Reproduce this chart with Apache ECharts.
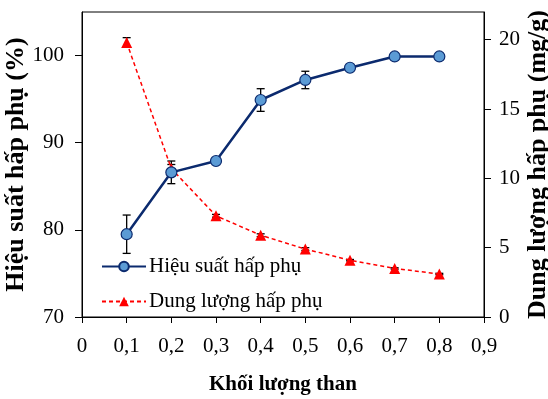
<!DOCTYPE html>
<html>
<head>
<meta charset="utf-8">
<script src="https://cdn.jsdelivr.net/npm/echarts@6/dist/echarts.min.js"></script>
<style>
html,body{margin:0;padding:0;background:#fff;}
#chart{width:548px;height:399px;}
</style>
</head>
<body>
<div id="chart"></div>
<script>
const xValues = [0.1, 0.2, 0.3, 0.4, 0.5, 0.6, 0.7, 0.8];
const efficiency = [79.5, 86.6, 87.9, 94.9, 97.2, 98.6, 99.9, 99.9];
const efficiencyError = [2.2, 1.3, 0.3, 1.3, 1.0, 0.3, 0.2, 0.2];
const capacity = [19.8, 10.7, 7.3, 5.9, 4.9, 4.1, 3.5, 3.1];
const capacityError = [0.35, 0.3, 0.1, 0.1, 0.1, 0.05, 0.05, 0.05];
const leftTicks = [70, 80, 90, 100];
const rightTicks = [0, 5, 10, 15, 20];
const seriesNames = ['Hiệu suất hấp phụ', 'Dung lượng hấp phụ'];

const FONT = '"Liberation Serif", "Times New Roman", serif';
const NAVY = '#0b2a6e';
const LIGHT = '#5b9bd5';
const RED = '#ff0000';

function errData(vals, errs) {
  return xValues.map((x, i) => [x, vals[i] - errs[i], vals[i] + errs[i]]);
}
function errRender(params, api) {
  const x = api.value(0);
  const lo = api.coord([x, api.value(1)]);
  const hi = api.coord([x, api.value(2)]);
  const w = 4;
  const st = { stroke: '#000', lineWidth: 1.3 };
  return {
    type: 'group',
    children: [
      { type: 'line', shape: { x1: lo[0], y1: lo[1], x2: hi[0], y2: hi[1] }, style: st },
      { type: 'line', shape: { x1: lo[0] - w, y1: lo[1], x2: lo[0] + w, y2: lo[1] }, style: st },
      { type: 'line', shape: { x1: hi[0] - w, y1: hi[1], x2: hi[0] + w, y2: hi[1] }, style: st }
    ]
  };
}

const chart = echarts.init(document.getElementById('chart'), null, { renderer: 'canvas' });
chart.setOption({
  animation: false,
  backgroundColor: '#fff',
  textStyle: { fontFamily: FONT },
  grid: {
    left: 82, right: 64, top: 12, bottom: 82,
    show: true, borderColor: '#000', borderWidth: 1,
    containLabel: false, outerBoundsMode: 'none'
  },
  legend: {
    data: seriesNames,
    orient: 'vertical',
    left: 96,
    top: 251,
    itemWidth: 44,
    itemHeight: 12,
    itemGap: 14,
    textStyle: { fontFamily: FONT, fontSize: 21, color: '#000', padding: [0, 0, 0, -2] }
  },
  xAxis: {
    type: 'value',
    min: 0, max: 0.9, interval: 0.1,
    name: 'Khối lượng than',
    nameLocation: 'middle',
    nameGap: 57,
    nameMoveOverlap: false,
    nameTextStyle: { fontFamily: FONT, fontSize: 21, fontWeight: 'bold', color: '#000' },
    axisLine: { show: true, lineStyle: { color: '#000', width: 1 } },
    axisTick: { show: true, inside: false, length: 6, lineStyle: { color: '#000' } },
    axisLabel: {
      fontFamily: FONT, fontSize: 21, color: '#000', margin: 19,
      formatter: v => (Math.round(v * 10) === 0 ? '0' : (Math.round(v * 10) / 10).toFixed(1).replace('.', ','))
    },
    splitLine: { show: false }
  },
  yAxis: [
    {
      type: 'value',
      position: 'left',
      min: 70, max: 105, interval: 10,
      name: 'Hiệu suất hấp phụ (%)',
      nameLocation: 'middle',
      nameRotate: 90,
      nameGap: 53,
      nameMoveOverlap: false,
      nameTextStyle: { fontFamily: FONT, fontSize: 26, fontWeight: 'bold', color: '#000' },
      axisLine: { show: true, lineStyle: { color: '#000', width: 1 } },
      axisTick: { show: true, length: 7, customValues: leftTicks, lineStyle: { color: '#000' } },
      axisLabel: { fontFamily: FONT, fontSize: 21, color: '#000', margin: 18, customValues: leftTicks },
      splitLine: { show: false }
    },
    {
      type: 'value',
      position: 'right',
      min: 0, max: 22, interval: 5,
      name: 'Dung lượng hấp phụ (mg/g)',
      nameLocation: 'middle',
      nameRotate: 90,
      nameGap: 41,
      nameMoveOverlap: false,
      nameTextStyle: { fontFamily: FONT, fontSize: 26, fontWeight: 'bold', color: '#000' },
      axisLine: { show: true, lineStyle: { color: '#000', width: 1 } },
      axisTick: { show: true, length: 7, customValues: rightTicks, lineStyle: { color: '#000' } },
      axisLabel: { fontFamily: FONT, fontSize: 21, color: '#000', margin: 15, customValues: rightTicks },
      splitLine: { show: false }
    }
  ],
  series: [
    {
      type: 'custom', name: 'errEff', yAxisIndex: 0, z: 1,
      renderItem: errRender,
      data: errData(efficiency, efficiencyError),
      encode: { x: 0, y: [1, 2] },
      silent: true
    },
    {
      type: 'custom', name: 'errCap', yAxisIndex: 1, z: 1,
      renderItem: errRender,
      data: errData(capacity, capacityError),
      encode: { x: 0, y: [1, 2] },
      silent: true
    },
    {
      name: seriesNames[0],
      type: 'line', yAxisIndex: 0, z: 3,
      data: xValues.map((x, i) => [x, efficiency[i]]),
      symbol: 'circle', symbolSize: 11,
      lineStyle: { color: NAVY, width: 2.5 },
      itemStyle: { color: LIGHT, borderColor: NAVY, borderWidth: 1.2 }
    },
    {
      name: seriesNames[1],
      type: 'line', yAxisIndex: 1, z: 2,
      data: xValues.map((x, i) => [x, capacity[i]]),
      symbol: 'triangle', symbolSize: 11,
      lineStyle: { color: RED, width: 1.5, type: [4, 3] },
      itemStyle: { color: RED, borderColor: RED, borderWidth: 0 }
    }
  ]
});
</script>
</body>
</html>
